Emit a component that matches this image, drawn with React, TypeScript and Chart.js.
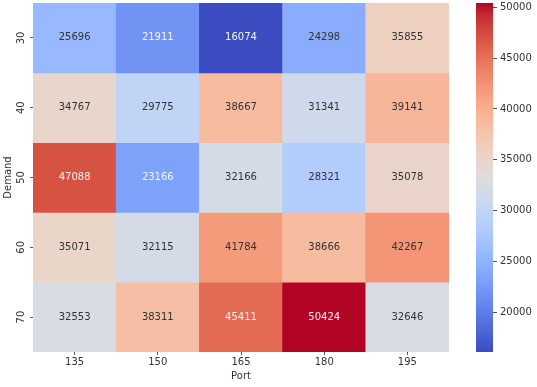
import React, { useEffect, useRef } from 'react';
import { Chart, registerables } from 'chart.js';

Chart.register(...registerables);

const ports = ['135', '150', '165', '180', '195'];
const demands = ['30', '40', '50', '60', '70'];
const demand30 = [25696, 21911, 16074, 24298, 35855];
const demand40 = [34767, 29775, 38667, 31341, 39141];
const demand50 = [47088, 23166, 32166, 28321, 35078];
const demand60 = [35071, 32115, 41784, 38666, 42267];
const demand70 = [32553, 38311, 45411, 50424, 32646];
const colorbarTicks = [20000, 25000, 30000, 35000, 40000, 45000, 50000];

const rows = [demand30, demand40, demand50, demand60, demand70];
const allValues = rows.flat();
const vmin = Math.min(...allValues);
const vmax = Math.max(...allValues);

const FONT = 'DejaVu Sans, sans-serif';
const TEXT = '#333333';

const COOLWARM: number[][] = [
  [59, 76, 192], [68, 90, 204], [77, 104, 215], [87, 117, 225], [98, 130, 234],
  [108, 142, 241], [119, 154, 247], [130, 165, 251], [141, 176, 254], [152, 185, 255],
  [163, 194, 255], [174, 201, 253], [184, 208, 249], [194, 213, 244], [204, 217, 238],
  [213, 219, 230], [221, 221, 221], [229, 216, 209], [236, 211, 197], [241, 204, 185],
  [245, 196, 173], [247, 187, 160], [247, 177, 148], [247, 166, 135], [244, 154, 123],
  [241, 141, 111], [236, 127, 99], [229, 112, 88], [222, 96, 77], [213, 80, 66],
  [203, 62, 56], [192, 40, 47], [180, 4, 38],
];

function coolwarm(t: number): number[] {
  const tt = Math.max(0, Math.min(1, t)) * (COOLWARM.length - 1);
  const i = Math.min(Math.floor(tt), COOLWARM.length - 2);
  const f = tt - i;
  const a = COOLWARM[i];
  const b = COOLWARM[i + 1];
  return [0, 1, 2].map((k) => Math.round(a[k] + (b[k] - a[k]) * f));
}

const rgbStr = (c: number[]) => `rgb(${c[0]},${c[1]},${c[2]})`;
const norm = (v: number) => (v - vmin) / (vmax - vmin);

function luminance(c: number[]): number {
  const lin = c.map((x) => {
    const s = x / 255;
    return s <= 0.03928 ? s / 12.92 : Math.pow((s + 0.055) / 1.055, 2.4);
  });
  return 0.2126 * lin[0] + 0.7152 * lin[1] + 0.0722 * lin[2];
}

const cellLabels = {
  id: 'cellLabels',
  afterDatasetsDraw(chart: any) {
    const ctx = chart.ctx;
    ctx.save();
    ctx.font = `10px ${FONT}`;
    ctx.textAlign = 'center';
    ctx.textBaseline = 'middle';
    rows.forEach((row, r) => {
      const meta = chart.getDatasetMeta(r);
      row.forEach((v, c) => {
        const el = meta.data[c];
        const col = coolwarm(norm(v));
        ctx.fillStyle = luminance(col) > 0.408 ? TEXT : '#f4f4f4';
        const yc = (el.y + el.base) / 2;
        ctx.fillText(String(v), el.x, yc);
      });
    });
    ctx.restore();
  },
};

const yTickLabels = {
  id: 'yTickLabels',
  afterDraw(chart: any) {
    const ctx = chart.ctx;
    const ys = chart.scales.y;
    ctx.save();
    ctx.font = `10px ${FONT}`;
    ctx.fillStyle = TEXT;
    ctx.textAlign = 'center';
    ctx.textBaseline = 'middle';
    demands.forEach((d, i) => {
      const y = ys.getPixelForValue(i);
      ctx.save();
      ctx.translate(21, y);
      ctx.rotate(-Math.PI / 2);
      ctx.fillText(d, 0, 0);
      ctx.restore();
    });
    ctx.restore();
  },
};

export default function App() {
  const mainRef = useRef<HTMLCanvasElement>(null);
  const cbRef = useRef<HTMLCanvasElement>(null);

  useEffect(() => {
    Chart.defaults.font.family = FONT;
    const main = new Chart(mainRef.current as HTMLCanvasElement, {
      type: 'bar',
      data: {
        labels: ports,
        datasets: rows.map((row, r) => ({
          label: demands[r],
          data: row.map(() => [r - 0.5, r + 0.5]),
          backgroundColor: row.map((v) => rgbStr(coolwarm(norm(v)))),
          borderWidth: 0,
          barPercentage: 1,
          categoryPercentage: 1,
          grouped: false,
        })) as any,
      },
      options: {
        animation: false,
        responsive: false,
        maintainAspectRatio: false,
        layout: { padding: { top: 3, right: 88, left: 0, bottom: 0 } },
        plugins: { legend: { display: false }, tooltip: { enabled: false } },
        scales: {
          x: {
            type: 'category',
            offset: true,
            grid: { display: true, drawOnChartArea: false, drawTicks: true, tickLength: 3, color: '#555', offset: false },
            border: { display: false },
            ticks: { color: TEXT, font: { family: FONT, size: 10 }, padding: 1, maxRotation: 0 },
            title: { display: true, text: 'Port', color: TEXT, font: { family: FONT, size: 10 }, padding: { top: 0, bottom: 5 } },
            afterFit: (s: any) => { s.height = 35; },
          },
          y: {
            type: 'linear',
            min: -0.5,
            max: 4.5,
            reverse: true,
            afterBuildTicks: (s: any) => { s.ticks = demands.map((_, i) => ({ value: i })); },
            ticks: { display: false },
            grid: { display: true, drawOnChartArea: false, drawTicks: true, tickLength: 3, color: '#555' },
            border: { display: false },
            title: { display: true, text: 'Demand', color: TEXT, font: { family: FONT, size: 10 }, padding: { top: 2, bottom: 0 } },
            afterFit: (s: any) => { s.width = 33; s.paddingTop = 0; s.paddingBottom = 0; },
          },
        },
      } as any,
      plugins: [cellLabels, yTickLabels],
    });

    const cb = new Chart(cbRef.current as HTMLCanvasElement, {
      type: 'bar',
      data: {
        labels: [''],
        datasets: [
          {
            data: [[vmin, vmax]] as any,
            backgroundColor: (ctx: any) => {
              const chart = ctx.chart;
              const area = chart.chartArea;
              if (!area) return 'rgba(0,0,0,0)';
              const ys = chart.scales.y;
              const g = chart.ctx.createLinearGradient(0, ys.getPixelForValue(vmin), 0, ys.getPixelForValue(vmax));
              COOLWARM.forEach((c, i) => g.addColorStop(i / (COOLWARM.length - 1), rgbStr(c)));
              return g;
            },
            borderWidth: 0,
            barPercentage: 1,
            categoryPercentage: 1,
          },
        ],
      },
      options: {
        animation: false,
        responsive: false,
        maintainAspectRatio: false,
        layout: { padding: { left: 36, top: 3, bottom: 35, right: 0 } },
        plugins: { legend: { display: false }, tooltip: { enabled: false } },
        scales: {
          x: { display: false },
          y: {
            position: 'right',
            min: vmin,
            max: vmax,
            afterBuildTicks: (s: any) => { s.ticks = colorbarTicks.map((v) => ({ value: v })); },
            grid: { display: true, drawOnChartArea: false, drawTicks: true, tickLength: 4, color: '#555' },
            border: { display: false },
            ticks: { color: TEXT, font: { family: FONT, size: 10 }, padding: 3, callback: (v: any) => String(v) },
            afterFit: (s: any) => { s.width = 44; s.paddingTop = 0; s.paddingBottom = 0; },
          },
        },
      } as any,
    });

    return () => {
      main.destroy();
      cb.destroy();
    };
  }, []);

  return (
    <div style={{ position: 'fixed', left: 0, top: 0, width: 537, height: 387, background: '#fff' }}>
      <canvas ref={mainRef} width={537} height={387} style={{ position: 'absolute', left: 0, top: 0, width: 537, height: 387 }} />
      <canvas ref={cbRef} width={97} height={387} style={{ position: 'absolute', left: 440, top: 0, width: 97, height: 387 }} />
    </div>
  );
}
